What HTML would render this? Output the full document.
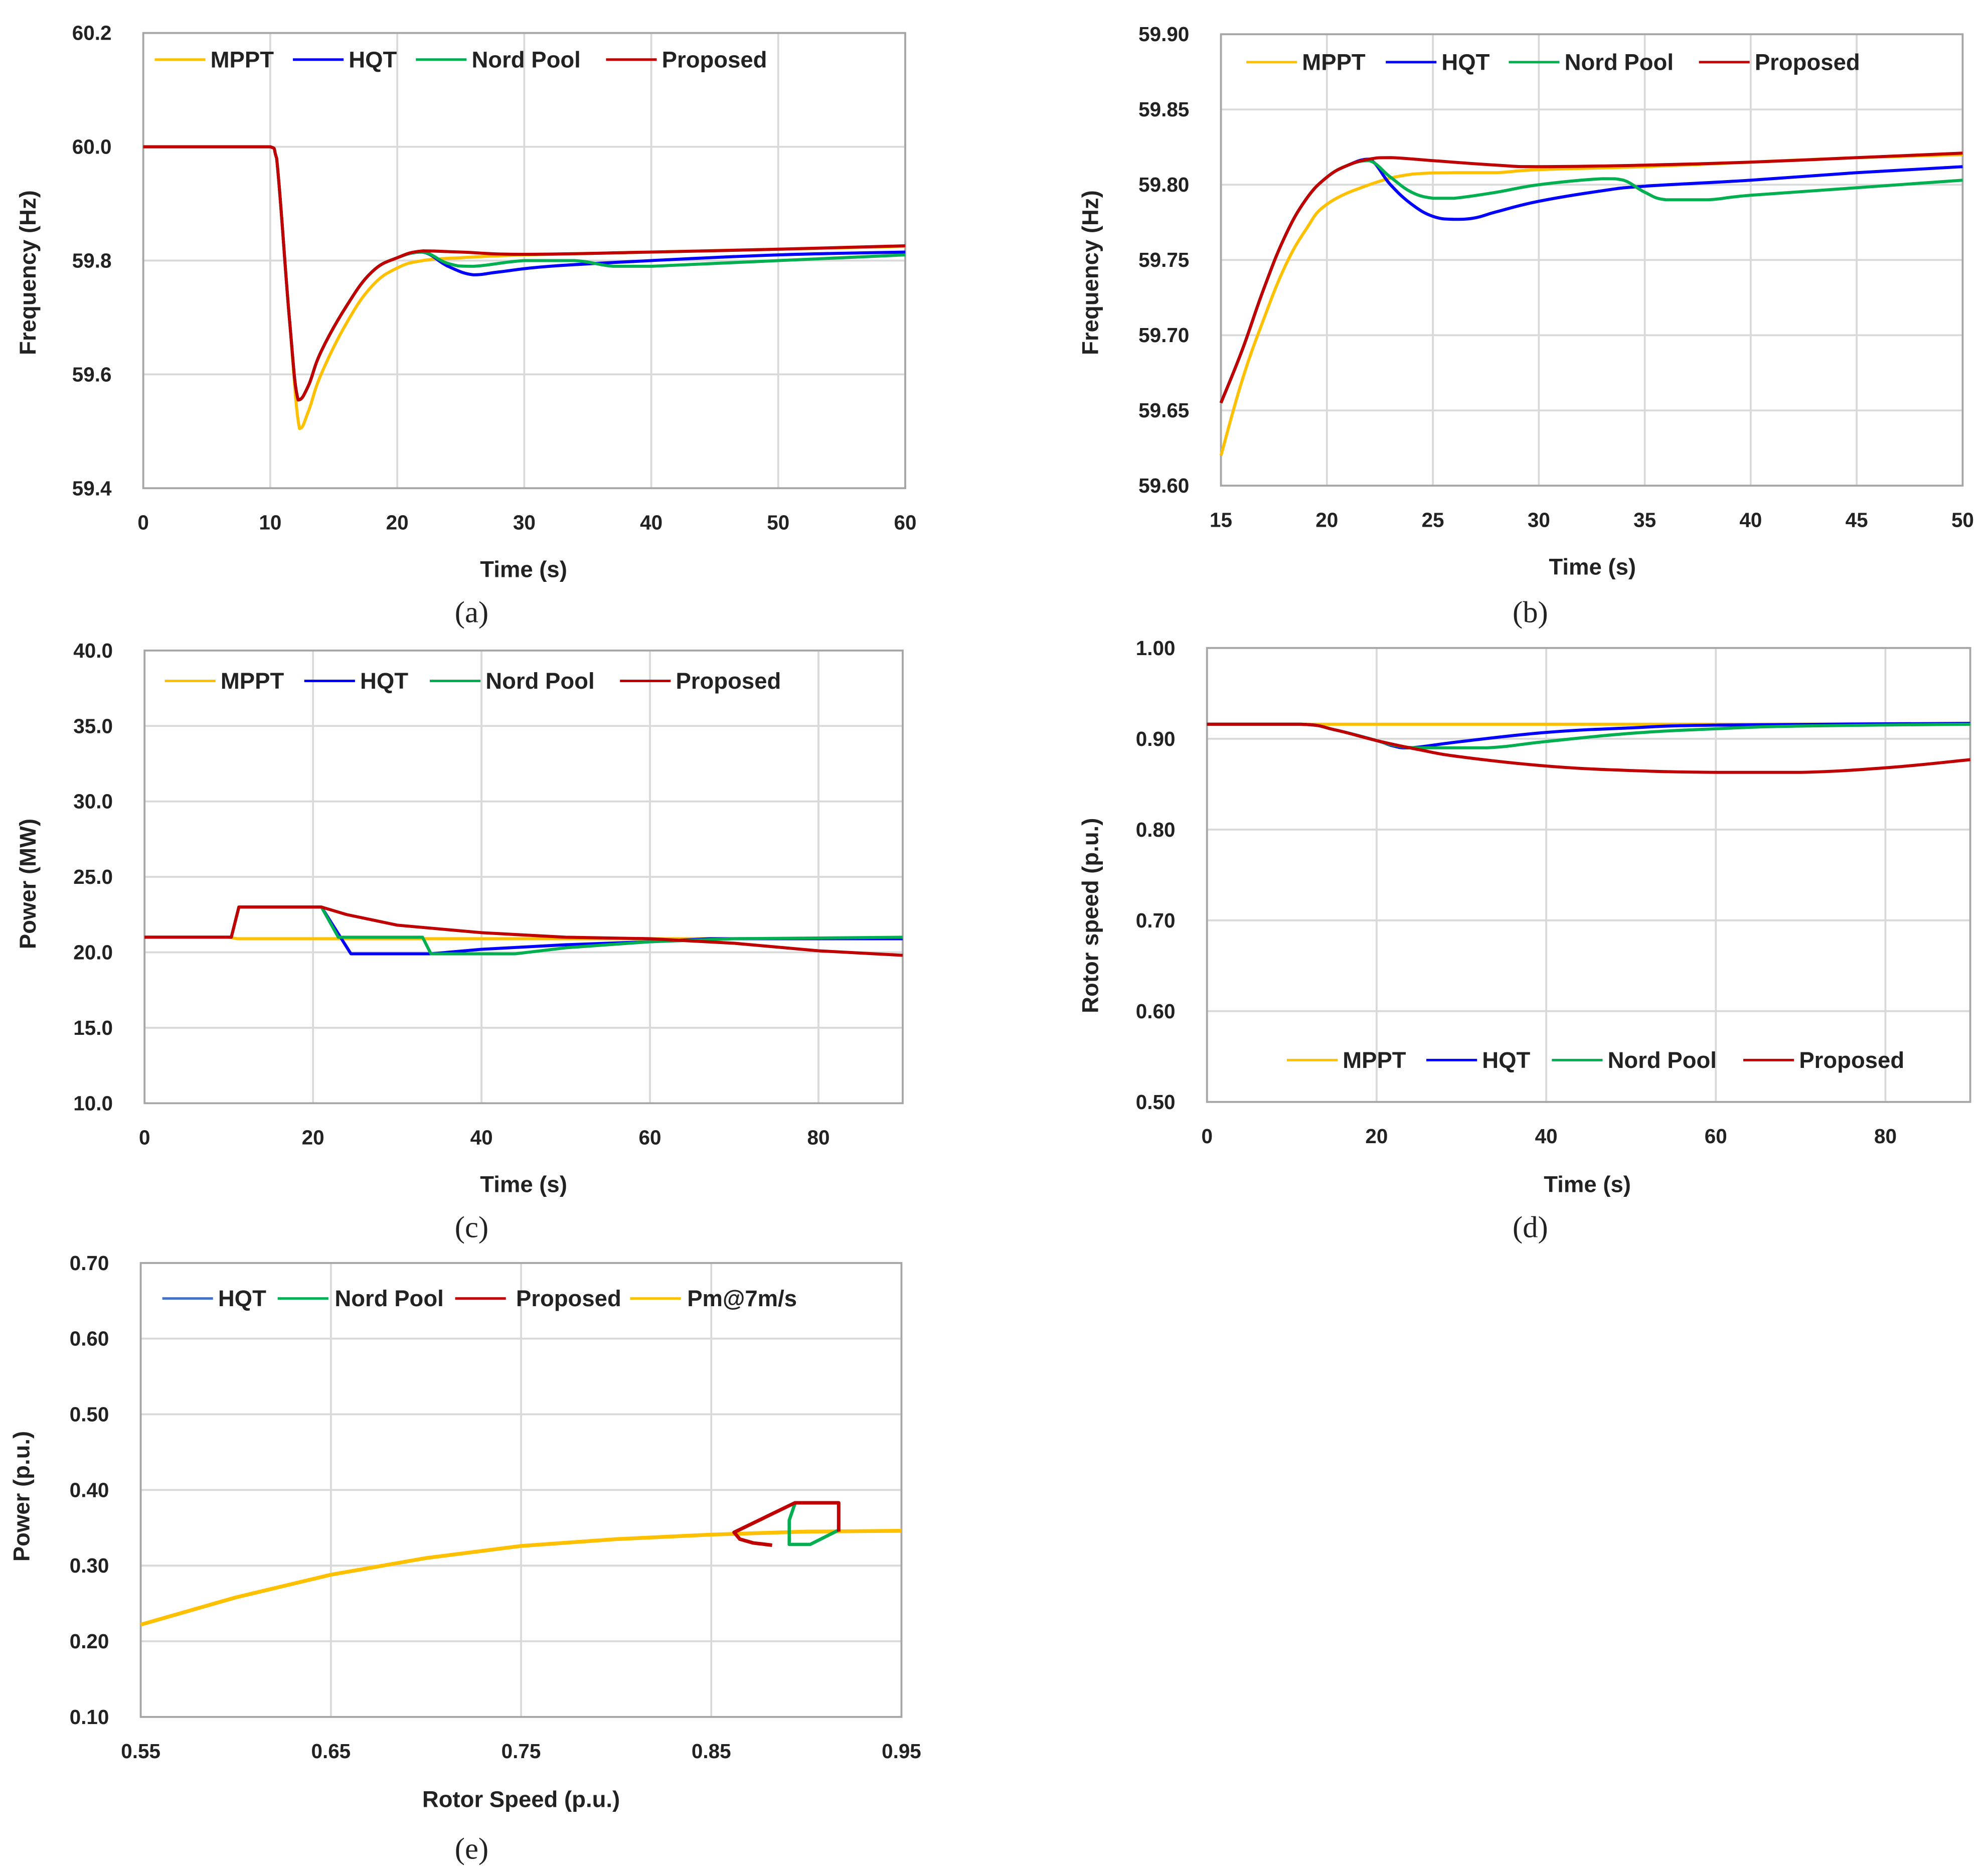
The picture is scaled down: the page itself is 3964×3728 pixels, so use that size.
<!DOCTYPE html>
<html><head><meta charset="utf-8">
<style>
html,body{margin:0;padding:0;background:#fff;}
svg{display:block;}
text{font-family:"Liberation Sans","Noto Sans CJK KR",sans-serif;fill:#222;}
.tk{font-size:16px;font-weight:bold;}
.ttl{font-size:18px;font-weight:bold;}
.lg{font-size:18px;font-weight:bold;}
.cap{font-family:"Liberation Serif",serif;font-size:24px;}
</style></head>
<body>
<svg id="chart" width="3964" height="3728" viewBox="0 0 1568 1474.7" preserveAspectRatio="none" xmlns="http://www.w3.org/2000/svg"></svg>
<script>
const C={MPPT:'#ffc000',HQT:'#0000ff',Nord:'#00b050',Prop:'#c00000',Pm:'#ffc000',HQTe:'#4472c4'};
// panel a data
const aX=[0,10,20,30,40,50,60];
const aY=[59.4,59.6,59.8,60.0,60.2];
const aYLabels=['59.4','59.6','59.8','60.0','60.2'];
const aMPPT=[[0,60],[10,60],[10.5,59.98],[11.5,59.7],[12.3,59.505],[13,59.535],[14,59.6],[16,59.69],[18,59.755],[20,59.787],[22,59.8],[25,59.805],[30,59.81],[40,59.815],[50,59.82],[60,59.825]];
const aHQT=[[0,60],[10,60],[10.5,59.98],[11.5,59.7],[12.2,59.555],[13,59.58],[14,59.64],[16,59.72],[18,59.78],[20,59.805],[22,59.815],[24,59.79],[26,59.775],[28,59.78],[32,59.79],[40,59.8],[50,59.81],[60,59.815]];
const aNord=[[0,60],[10,60],[10.5,59.98],[11.5,59.7],[12.2,59.555],[13,59.58],[14,59.64],[16,59.72],[18,59.78],[20,59.805],[22,59.815],[24,59.795],[26,59.79],[30,59.8],[34,59.8],[37,59.79],[40,59.79],[50,59.8],[60,59.81]];
const aProp=[[0,60],[10,60],[10.5,59.98],[11.5,59.7],[12.2,59.555],[13,59.58],[14,59.64],[16,59.72],[18,59.78],[20,59.805],[22,59.817],[25,59.815],[30,59.811],[40,59.815],[50,59.82],[60,59.826]];
// panel b data
const bX=[15,20,25,30,35,40,45,50];
const bY=[59.6,59.65,59.7,59.75,59.8,59.85,59.9];
const bYLabels=['59.60','59.65','59.70','59.75','59.80','59.85','59.90'];
const bMPPT=[[15,59.62],[16,59.67],[17,59.71],[18,59.745],[19,59.77],[20,59.787],[22,59.8],[24,59.807],[26,59.808],[28,59.808],[30,59.81],[35,59.812],[40,59.815],[45,59.818],[50,59.82]];
const bHQT=[[15,59.655],[16,59.69],[17,59.73],[18,59.765],[19,59.79],[20,59.805],[21,59.813],[22,59.817],[23,59.8],[24,59.787],[25,59.779],[26,59.777],[27,59.778],[28,59.782],[30,59.789],[33,59.796],[35,59.799],[40,59.803],[45,59.808],[50,59.812]];
const bNord=[[15,59.655],[16,59.69],[17,59.73],[18,59.765],[19,59.79],[20,59.805],[21,59.813],[22,59.816],[23,59.805],[24,59.795],[25,59.791],[26,59.791],[28,59.795],[30,59.8],[33,59.804],[34,59.803],[35,59.795],[36,59.79],[38,59.79],[40,59.793],[45,59.798],[50,59.803]];
const bProp=[[15,59.655],[16,59.69],[17,59.73],[18,59.765],[19,59.79],[20,59.805],[21,59.813],[22,59.817],[23,59.818],[25,59.816],[28,59.813],[30,59.812],[35,59.813],[40,59.815],[45,59.818],[50,59.821]];
// panel c data
const cX=[0,20,40,60,80];
const cY=[10,15,20,25,30,35,40];
const cYLabels=['10.0','15.0','20.0','25.0','30.0','35.0','40.0'];
const cMPPT=[[0,21],[10,21],[11,20.9],[90,20.9]];
const cHQT=[[0,21],[10.3,21],[11.2,23],[21,23],[24.5,19.9],[34,19.9],[40,20.2],[50,20.5],[60,20.7],[67,20.9],[90,20.9]];
const cNord=[[0,21],[10.3,21],[11.2,23],[21,23],[23,21],[33,21],[34,19.9],[44,19.9],[50,20.3],[60,20.7],[70,20.9],[90,21]];
const cProp=[[0,21],[10.3,21],[11.2,23],[21,23],[24,22.5],[30,21.8],[40,21.3],[50,21],[60,20.9],[70,20.6],[80,20.1],[90,19.8]];
// panel d data
const dX=[0,20,40,60,80];
const dY=[0.5,0.6,0.7,0.8,0.9,1.0];
const dYLabels=['0.50','0.60','0.70','0.80','0.90','1.00'];
const dMPPT=[[0,0.916],[90,0.916]];
const dHQT=[[0,0.916],[11,0.916],[15,0.91],[20,0.898],[22,0.892],[24,0.89],[30,0.897],[40,0.907],[50,0.912],[60,0.915],[90,0.917]];
const dNord=[[0,0.916],[11,0.916],[15,0.91],[20,0.898],[22,0.893],[25,0.89],[33,0.89],[40,0.897],[50,0.906],[60,0.911],[70,0.914],[90,0.916]];
const dProp=[[0,0.916],[11,0.916],[15,0.91],[20,0.898],[25,0.888],[30,0.88],[40,0.87],[50,0.865],[60,0.863],[70,0.863],[80,0.868],[90,0.877]];
// panel e data
const eX=[0.55,0.65,0.75,0.85,0.95];
const eXLabels=['0.55','0.65','0.75','0.85','0.95'];
const eY=[0.1,0.2,0.3,0.4,0.5,0.6,0.7];
const eYLabels=['0.10','0.20','0.30','0.40','0.50','0.60','0.70'];
const ePm=[[0.55,0.222],[0.6,0.258],[0.65,0.288],[0.7,0.31],[0.75,0.326],[0.8,0.335],[0.85,0.341],[0.9,0.345],[0.95,0.346]];
const eHQT=[[0.894,0.382],[0.891,0.36],[0.891,0.328],[0.902,0.328],[0.917,0.347]];
const eNord=[[0.894,0.382],[0.891,0.36],[0.891,0.328],[0.902,0.328],[0.917,0.347]];
const eProp=[[0.917,0.345],[0.917,0.383],[0.894,0.383],[0.862,0.344],[0.865,0.335],[0.872,0.33],[0.882,0.327]];

const svg=document.getElementById('chart');
const NS='http://www.w3.org/2000/svg';
function mk(tag,attrs,parent){const e=document.createElementNS(NS,tag);for(const k in attrs)e.setAttribute(k,attrs[k]);(parent||svg).appendChild(e);return e;}
function txt(s,x,y,cls,anchor,parent,rot){const t=mk('text',{x:x,y:y,'class':cls,'text-anchor':anchor||'middle','dominant-baseline':'central'},parent);if(rot)t.setAttribute('transform','rotate(-90 '+x+' '+y+')');t.textContent=s;return t;}
const clamp=(v,a,b)=>Math.min(Math.max(v,Math.min(a,b)),Math.max(a,b));
function smoothPath(P){
  let d='M'+P[0][0].toFixed(2)+','+P[0][1].toFixed(2);
  for(let i=0;i<P.length-1;i++){
    const p0=P[i-1]||P[i],p1=P[i],p2=P[i+1],p3=P[i+2]||P[i+1];
    const t=0.2;
    let c1x=clamp(p1[0]+(p2[0]-p0[0])*t,p1[0],p2[0]);
    let c1y=clamp(p1[1]+(p2[1]-p0[1])*t,p1[1],p2[1]);
    let c2x=clamp(p2[0]-(p3[0]-p1[0])*t,p1[0],p2[0]);
    let c2y=clamp(p2[1]-(p3[1]-p1[1])*t,p1[1],p2[1]);
    d+=' C'+c1x.toFixed(2)+','+c1y.toFixed(2)+' '+c2x.toFixed(2)+','+c2y.toFixed(2)+' '+p2[0].toFixed(2)+','+p2[1].toFixed(2);
  }
  return d;
}

function panel(o){
  const g=mk('g',{});
  
  
  const sx=v=>o.x0+(v-o.xmin)/(o.xmax-o.xmin)*(o.x1-o.x0);
  const sy=v=>o.y1-(v-o.ymin)/(o.ymax-o.ymin)*(o.y1-o.y0);
  const grid=mk('g',{},g);
  
  
  o.xt.forEach(v=>{mk('line',{x1:sx(v),x2:sx(v),y1:o.y0,y2:o.y1,stroke:'#d9d9d9','stroke-width':1.5},grid);});
  o.yt.forEach(v=>{mk('line',{x1:o.x0,x2:o.x1,y1:sy(v),y2:sy(v),stroke:'#d9d9d9','stroke-width':1.5},grid);});
  const fr=mk('rect',{x:o.x0,y:o.y0,width:o.x1-o.x0,height:o.y1-o.y0,fill:'none',stroke:'#a6a6a6','stroke-width':1.5},g);
  
  
  const xl=mk('g',{},g);
  
  
  o.xt.forEach((v,i)=>txt(o.xl?o.xl[i]:String(v),sx(v),o.y1+27,'tk','middle',xl));
  const yl=mk('g',{},g);
  
  
  o.yt.forEach((v,i)=>txt(o.yl[i],o.x0-25,sy(v),'tk','end',yl));
  const xt=txt(o.xtitle,o.xtx,o.xty,'ttl','middle',g);
  
  
  const yt=txt(o.ytitle,o.ytx,o.yty,'ttl','middle',g,true);
  
  
  const cp=txt(o.cap,o.capx,o.capy,'cap','middle',g);
  
  
  o.series.forEach(s=>{
    const P=s.d.map(q=>[sx(q[0]),sy(q[1])]);
    let p;
    if(o.smooth){
      p=mk('path',{d:smoothPath(P),fill:'none',stroke:s.c,'stroke-width':s.w||2.4,'stroke-linejoin':'round'},g);
    }else{
      p=mk('polyline',{points:P.map(q=>q[0].toFixed(2)+','+q[1].toFixed(2)).join(' '),fill:'none',stroke:s.c,'stroke-width':s.w||2.4,'stroke-linejoin':'round'},g);
    }
    
    
  });
  const lg=mk('g',{},g);
  
  
  o.legend.forEach(l=>{
    const e=mk('g',{},lg);
    
    
    mk('line',{x1:l[1],x2:l[1]+40,y1:o.ly,y2:o.ly,stroke:l[3],'stroke-width':2},e);
    txt(l[0],l[2],o.ly,'lg','start',e);
  });
}

panel({name:'panel-a-frequency',smooth:true,x0:113,x1:714,y0:26,y1:385,xmin:0,xmax:60,ymin:59.4,ymax:60.2,xt:aX,yt:aY,yl:aYLabels,
 xtitle:'Time  (s)',xtx:413,xty:449,ytitle:'Frequency  (Hz)',ytx:22,yty:215,cap:'(a)',capx:372,capy:483,ly:47,
 series:[{id:'mppt',d:aMPPT,c:C.MPPT},{id:'hqt',d:aHQT,c:C.HQT},{id:'nord-pool',d:aNord,c:C.Nord},{id:'proposed',d:aProp,c:C.Prop}],
 legend:[['MPPT',122,166,C.MPPT],['HQT',231,275,C.HQT],['Nord Pool',328,372,C.Nord],['Proposed',478,522,C.Prop]]});
panel({name:'panel-b-frequency-zoom',smooth:true,x0:963,x1:1548,y0:27,y1:383,xmin:15,xmax:50,ymin:59.6,ymax:59.9,xt:bX,yt:bY,yl:bYLabels,
 xtitle:'Time  (s)',xtx:1256,xty:447,ytitle:'Frequency  (Hz)',ytx:860,yty:215,cap:'(b)',capx:1207,capy:483,ly:49,
 series:[{id:'mppt',d:bMPPT,c:C.MPPT},{id:'hqt',d:bHQT,c:C.HQT},{id:'nord-pool',d:bNord,c:C.Nord},{id:'proposed',d:bProp,c:C.Prop}],
 legend:[['MPPT',983,1027,C.MPPT],['HQT',1093,1137,C.HQT],['Nord Pool',1190,1234,C.Nord],['Proposed',1340,1384,C.Prop]]});
panel({name:'panel-c-power',x0:114,x1:712,y0:513,y1:870,xmin:0,xmax:90,ymin:10,ymax:40,xt:cX,yt:cY,yl:cYLabels,
 xtitle:'Time  (s)',xtx:413,xty:934,ytitle:'Power (MW)',ytx:22,yty:697,cap:'(c)',capx:372,capy:968,ly:537,
 series:[{id:'mppt',d:cMPPT,c:C.MPPT},{id:'hqt',d:cHQT,c:C.HQT},{id:'nord-pool',d:cNord,c:C.Nord},{id:'proposed',d:cProp,c:C.Prop}],
 legend:[['MPPT',130,174,C.MPPT],['HQT',240,284,C.HQT],['Nord Pool',339,383,C.Nord],['Proposed',489,533,C.Prop]]});
panel({name:'panel-d-rotor-speed',smooth:true,x0:952,x1:1554,y0:511,y1:869,xmin:0,xmax:90,ymin:0.5,ymax:1.0,xt:dX,yt:dY,yl:dYLabels,
 xtitle:'Time  (s)',xtx:1252,xty:934,ytitle:'Rotor speed (p.u.)',ytx:860,yty:722,cap:'(d)',capx:1207,capy:968,ly:836,
 series:[{id:'mppt',d:dMPPT,c:C.MPPT},{id:'hqt',d:dHQT,c:C.HQT},{id:'nord-pool',d:dNord,c:C.Nord},{id:'proposed',d:dProp,c:C.Prop}],
 legend:[['MPPT',1015,1059,C.MPPT],['HQT',1125,1169,C.HQT],['Nord Pool',1224,1268,C.Nord],['Proposed',1375,1419,C.Prop]]});
panel({name:'panel-e-power-vs-speed',x0:111,x1:711,y0:996,y1:1354,xmin:0.55,xmax:0.95,ymin:0.1,ymax:0.7,xt:eX,xl:eXLabels,yt:eY,yl:eYLabels,
 xtitle:'Rotor Speed  (p.u.)',xtx:411,xty:1419,ytitle:'Power (p.u.)',ytx:17,yty:1180,cap:'(e)',capx:372,capy:1458,ly:1024,
 series:[{id:'pm-7ms',d:ePm,c:C.Pm,w:3},{id:'hqt',d:eHQT,c:C.HQTe},{id:'nord-pool',d:eNord,c:C.Nord,w:2.6},{id:'proposed',d:eProp,c:C.Prop,w:2.8}],
 legend:[['HQT',128,172,C.HQTe],['Nord Pool',219,264,C.Nord],['Proposed',359,407,C.Prop],['Pm@7m/s',497,542,C.Pm]]});
</script>
</body></html>
